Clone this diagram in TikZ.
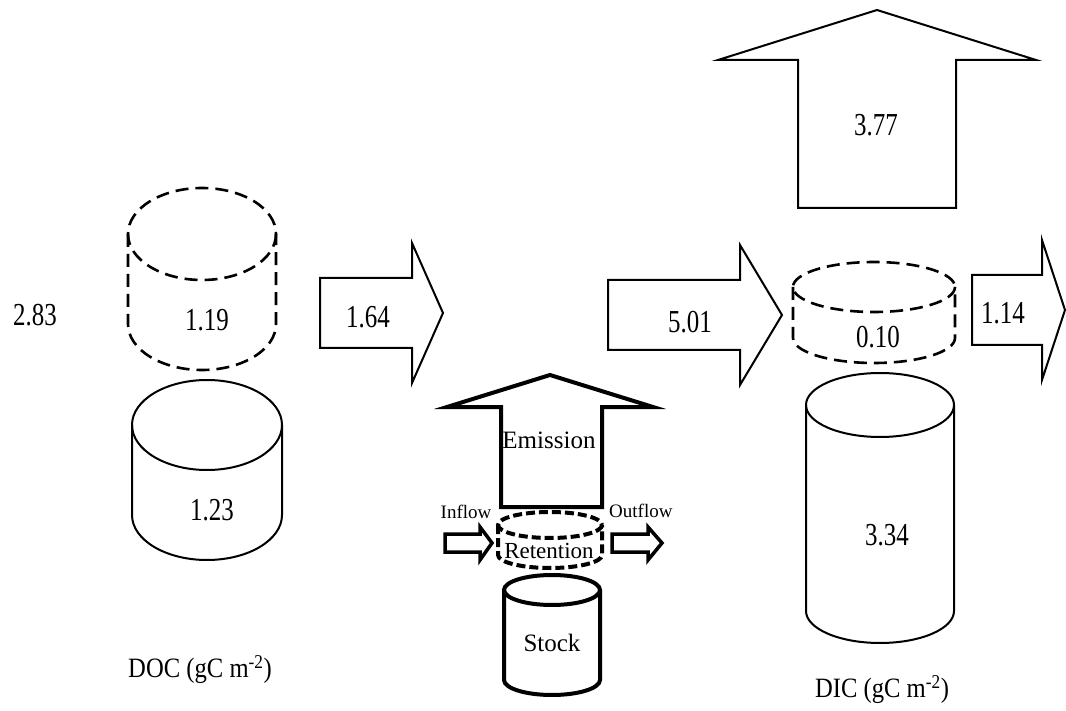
\documentclass[tikz,border=0pt]{standalone}
\usepackage{fontspec}
\setmainfont{Liberation Serif}
\newfontfamily\numfont[FakeStretch=0.78]{Liberation Serif}
\newfontfamily\unitfont[FakeStretch=0.88]{Liberation Serif}
\newcommand\mycyl[6]{%
  \draw[#1] ({#2-#3},#4) -- ({#2-#3},#5) arc[start angle=180,end angle=0,x radius=#3,y radius=#6] -- ({#2+#3},#4);
  \draw[#1] (#2,#4) ellipse[x radius=#3,y radius=#6];
}
\newcommand\rarrow[9]{% style, xl, xb, tip, yt, yb, ht, hb, yc
  \draw[#1] (#2,#5) -- (#3,#5) -- (#3,#7) -- (#4,#9) -- (#3,#8) -- (#3,#6) -- (#2,#6) -- cycle;
}
\tikzset{
  solidline/.style={line width=2pt,line join=miter},
  dashline/.style={line width=2.6pt,dash pattern=on 13pt off 7pt},
  legline/.style={line width=4pt,line join=miter},
  legdash/.style={line width=4pt,dash pattern=on 9pt off 4pt},
  numlabel/.style={font=\numfont\fontsize{32}{36}\selectfont,inner sep=0pt},
  leglabel/.style={font=\fontsize{25}{30}\selectfont,inner sep=0pt},
  retlabel/.style={font=\fontsize{23}{28}\selectfont,inner sep=0pt},
  smalllabel/.style={font=\fontsize{19}{22}\selectfont,inner sep=0pt},
  unitlabel/.style={font=\unitfont\fontsize{28}{32}\selectfont,inner sep=0pt}
}
\begin{document}
\begin{tikzpicture}[x=1pt,y=-1pt]
\useasboundingbox[fill=white] (0,0) rectangle (1066,711);
% DOC
\node[numlabel] (v283) at (35,315) {2.83};
\mycyl{dashline}{202}{74}{234}{324}{46}
\node[numlabel] (v119) at (207,320) {1.19};
\mycyl{solidline}{207}{75}{425}{515}{45}
\node[numlabel] (v123) at (212,510) {1.23};
\node[unitlabel] (doc) at (200,670) {DOC (gC m\textsuperscript{-2})};
% flows
\rarrow{solidline}{320}{412}{443}{278}{348}{243}{383}{313}
\node[numlabel] (v164) at (368,317) {1.64};
\rarrow{solidline}{608}{740}{782}{280}{350}{245}{385}{315}
\node[numlabel] (v501) at (690,322) {5.01};
\rarrow{solidline}{972}{1042}{1065}{275}{345}{240}{380}{310}
\node[numlabel] (v114) at (1003,313) {1.14};
% big emission arrow
\draw[solidline] (798,208) -- (798,60) -- (718,60) -- (877,10) -- (1036,60) -- (956,60) -- (956,208) -- cycle;
\node[numlabel] (v377) at (876,125) {3.77};
% DIC
\mycyl{dashline}{874}{81}{287}{338}{25}
\node[numlabel] (v010) at (878,337) {0.10};
\mycyl{solidline}{880}{74}{405}{611}{32}
\node[numlabel] (v334) at (887,535) {3.34};
\node[unitlabel] (dic) at (882,690) {DIC (gC m\textsuperscript{-2})};
% legend
\draw[legline] (501,507) -- (501,407) -- (447,407) -- (550,375) -- (653,407) -- (602,407) -- (602,507) -- cycle;
\node[leglabel] (emis) at (549,440) {Emission};
\mycyl{legdash}{550}{52}{525}{555}{13}
\node[retlabel] (ret) at (549,551) {Retention};
\mycyl{legline}{552}{48}{590}{680}{15}
\node[leglabel] (stock) at (552,643) {Stock};
\rarrow{line width=3.5pt,line join=miter}{445}{480}{492}{534}{552}{527}{560}{543}
\node[smalllabel] (inflow) at (466,512) {Inflow};
\rarrow{line width=3.5pt,line join=miter}{612}{648}{662}{534}{552}{527}{560}{543}
\node[smalllabel,anchor=west] (outflow) at (609,511) {Outflow};
\end{tikzpicture}
\end{document}
